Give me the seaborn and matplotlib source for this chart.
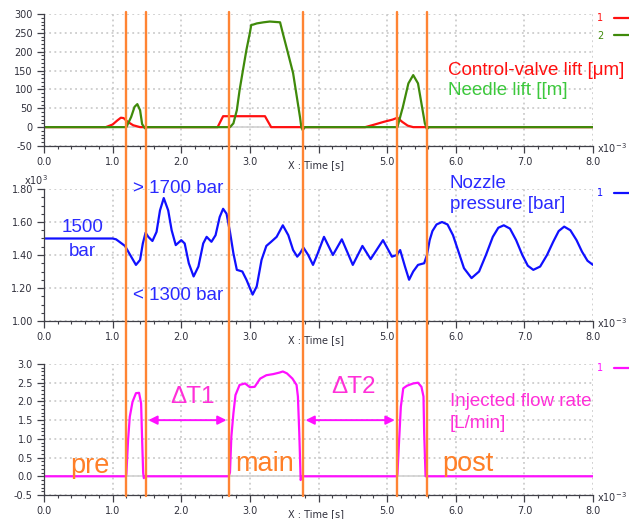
import matplotlib
matplotlib.use("Agg")
import matplotlib.pyplot as plt
import seaborn as sns
from matplotlib.lines import Line2D
from matplotlib.ticker import MultipleLocator, FuncFormatter
from matplotlib.transforms import blended_transform_factory

# ---- data (time in ms) -------------------------------------------------
event_times = [1.19, 1.48, 2.69, 3.78, 5.14, 5.58]

cv_time = [0.0, 0.90, 1.00, 1.07, 1.12, 1.16, 1.22, 1.30, 1.40,
           2.53, 2.61, 3.22, 3.31,
           4.68, 4.80, 4.95, 5.08, 5.15, 5.22, 5.30, 5.38, 8.0]
cv_lift = [0, 0, 7, 18, 25, 24, 14, 5, 0,
           0, 29, 29, 0,
           0, 6, 14, 20, 25, 14, 4, 0, 0]

needle_time = [0.0, 1.20, 1.27, 1.32, 1.36, 1.40, 1.43, 1.47, 1.50,
               2.71, 2.76, 2.81, 2.85, 2.90, 2.95, 3.00, 3.02, 3.05, 3.10,
               3.20, 3.29, 3.44, 3.48, 3.55, 3.63, 3.73, 3.75, 3.77, 3.80,
               5.15, 5.23, 5.31, 5.38, 5.45, 5.50, 5.55, 5.58, 5.61, 8.0]
needle_lift = [0, 0, 27, 54, 61, 45, 8, -3, 0,
               0, 10, 45, 98, 152, 205, 250, 271, 272, 275,
               278, 280, 278, 249, 200, 143, 27, 0, -8, 0,
               0, 54, 116, 138, 116, 63, 10, -5, 0, 0]

press_time = [0.0, 1.00, 1.05, 1.18, 1.27, 1.34, 1.40, 1.44, 1.48, 1.52,
              1.58, 1.64, 1.69, 1.745, 1.81, 1.86, 1.92, 2.00, 2.05, 2.11,
              2.18, 2.25, 2.32, 2.37, 2.44, 2.50, 2.56, 2.61, 2.66, 2.71,
              2.76, 2.81, 2.89, 2.95, 3.04, 3.10, 3.17, 3.24, 3.31, 3.39,
              3.48, 3.56, 3.63, 3.69, 3.73, 3.78, 3.85, 3.92, 3.98, 4.08,
              4.21, 4.34, 4.50, 4.64, 4.76, 4.94, 5.07, 5.14, 5.19, 5.26,
              5.32, 5.38, 5.45, 5.54, 5.58, 5.62, 5.66, 5.72, 5.80, 5.88,
              5.96, 6.04, 6.12, 6.23, 6.34, 6.44, 6.54, 6.62, 6.70, 6.79,
              6.88, 6.97, 7.05, 7.13, 7.23, 7.33, 7.42, 7.50, 7.58, 7.67,
              7.76, 7.84, 7.92, 8.0]
press_bar = [1500, 1500, 1495, 1455, 1390, 1340, 1370, 1470, 1535, 1510,
             1485, 1540, 1670, 1745, 1670, 1550, 1460, 1490, 1470, 1350,
             1270, 1330, 1470, 1510, 1480, 1520, 1630, 1680, 1650, 1540,
             1410, 1310, 1300, 1250, 1160, 1210, 1370, 1455, 1480, 1510,
             1580, 1520, 1430, 1390, 1410, 1445, 1400, 1340, 1400, 1510,
             1400, 1495, 1340, 1455, 1375, 1490, 1390, 1400, 1430, 1330,
             1250, 1300, 1340, 1350, 1400, 1490, 1545, 1585, 1600, 1585,
             1520, 1420, 1320, 1260, 1300, 1400, 1510, 1565, 1580, 1560,
             1490, 1400, 1335, 1310, 1330, 1400, 1480, 1545, 1572, 1550,
             1490, 1420, 1365, 1340]

flow_time = [0.0, 1.19, 1.20, 1.225, 1.25, 1.29, 1.34, 1.385, 1.415, 1.43,
             1.445, 1.455, 1.47,
             2.69, 2.71, 2.73, 2.76, 2.79, 2.85, 2.93, 3.00, 3.07, 3.15,
             3.24, 3.34, 3.43, 3.48, 3.54, 3.62, 3.68, 3.70, 3.72, 3.74,
             3.76,
             5.14, 5.15, 5.175, 5.20, 5.235, 5.29, 5.38, 5.45, 5.50, 5.53,
             5.54, 5.56, 8.0]
flow_rate = [0, 0, 0.05, 0.97, 1.59, 1.99, 2.22, 2.23, 1.95, 0.97,
             0.09, -0.05, 0,
             0, 0.1, 1.06, 1.68, 2.17, 2.44, 2.48, 2.38, 2.39, 2.61,
             2.70, 2.73, 2.77, 2.80, 2.75, 2.61, 2.44, 2.13, 1.15, -0.1,
             0,
             0, 0.05, 0.97, 1.86, 2.35, 2.42, 2.48, 2.50, 2.39, 2.13,
             1.15, 0, 0]

interval_arrows = [(1.52, 2.66), (3.81, 5.11)]
arrow_level = 1.5

time_ticks = [0, 1, 2, 3, 4, 5, 6, 7, 8]
label_slot = 4  # tick whose label gives way to the axis title
lift_ticks = [-50, 0, 50, 100, 150, 200, 250, 300]
press_ticks = [1000, 1200, 1400, 1600, 1800]
flow_ticks = [-0.5, 0.0, 0.5, 1.0, 1.5, 2.0, 2.5, 3.0]

# ---- colours -------------------------------------------------------------
RED = "#ff1010"
GREEN = "#3f8a0a"
GREEN_TXT = "#3cc83c"
BLUE = "#1010ff"
BLUE_TXT = "#2a2aff"
MAGENTA = "#ff10ff"
MAGENTA_TXT = "#ff30d8"
ORANGE = "#ff8433"
ORANGE_TXT = "#ff7f27"
AXIS = "#404048"
TICK_TXT = "#30303c"

sns.set_style("white")
plt.rcParams["font.family"] = ["DejaVu Sans"]

fig = plt.figure(figsize=(6.29, 5.19), dpi=100)
W, H = 629.0, 519.0


def panel(top_px, bottom_px):
    return fig.add_axes([44 / W, 1 - bottom_px / H, 549 / W,
                         (bottom_px - top_px) / H])


ax_lift = panel(14, 146)
ax_press = panel(189, 321)
ax_flow = panel(364, 495)


def time_fmt(v, _):
    return "" if abs(v - label_slot) < 1e-9 else f"{v:.1f}"


def style(ax, yticks, yminor, fmt):
    ax.set_facecolor("none")
    ax.set_xlim(time_ticks[0], time_ticks[-1])
    ax.set_ylim(yticks[0], yticks[-1])
    ax.set_xticks(time_ticks)
    ax.set_yticks(yticks)
    ax.xaxis.set_minor_locator(MultipleLocator(0.2))
    ax.yaxis.set_minor_locator(MultipleLocator(yminor))
    ax.xaxis.set_major_formatter(FuncFormatter(time_fmt))
    ax.yaxis.set_major_formatter(FuncFormatter(fmt))
    for s in ("top", "right"):
        ax.spines[s].set_visible(False)
    for s in ("left", "bottom"):
        ax.spines[s].set_color(AXIS)
        ax.spines[s].set_linewidth(0.9)
    ax.tick_params(which="major", direction="out", length=5, width=0.9,
                   color=AXIS, labelsize=7, labelcolor=TICK_TXT, pad=3,
                   left=True, bottom=True)
    ax.tick_params(which="minor", direction="out", length=2.5, width=0.8,
                   color=AXIS, left=True, bottom=True)
    ax.grid(True, which="major", linestyle=(0, (1.2, 2.2)),
            color="#c4c4c4", linewidth=1.1)
    ax.set_xlabel("X : Time [s]", fontsize=7, color=TICK_TXT)
    ax.xaxis.set_label_coords(0.495, -0.11)
    ax.set_ylabel("")
    ax.text(1.007, -0.015, "x10$^{-3}$", transform=ax.transAxes,
            fontsize=7, color=TICK_TXT, ha="left", va="center")


# ---- lift panel ----------------------------------------------------------
sns.lineplot(x=cv_time, y=cv_lift, ax=ax_lift, color=RED, lw=1.6,
             estimator=None, sort=False, label="1")
sns.lineplot(x=needle_time, y=needle_lift, ax=ax_lift, color=GREEN, lw=1.6,
             estimator=None, sort=False, label="2")
style(ax_lift, lift_ticks, 10, lambda v, _: f"{v:.0f}")
ax_lift.axhline(0, color="#d2d2d2", lw=1.2, zorder=1.5)
ax_lift.text(5.89, 139, "Control-valve lift [\u03bcm]", color=RED,
             fontsize=13.5, family="Liberation Sans", va="baseline")
ax_lift.text(5.89, 84, "Needle lift [[m]", color=GREEN_TXT,
             fontsize=13.5, family="Liberation Sans", va="baseline")

# ---- pressure panel ------------------------------------------------------
sns.lineplot(x=press_time, y=press_bar, ax=ax_press, color=BLUE, lw=1.6,
             estimator=None, sort=False, label="1")
style(ax_press, press_ticks, 50, lambda v, _: f"{v / 1000:.2f}")
ax_press.text(-0.036, 1.065, "x10$^{3}$", transform=ax_press.transAxes,
              fontsize=7, color=TICK_TXT, ha="left", va="center")
for x, y, s in [(1.295, 1776, "> 1700 bar"), (1.295, 1127, "< 1300 bar"),
                (0.258, 1539, "1500"), (0.36, 1394, "bar"),
                (5.915, 1806, "Nozzle"), (5.915, 1679, "pressure [bar]")]:
    ax_press.text(x, y, s, color=BLUE_TXT, fontsize=13.5,
                  family="Liberation Sans", va="baseline", clip_on=False)

# ---- flow panel ----------------------------------------------------------
sns.lineplot(x=flow_time, y=flow_rate, ax=ax_flow, color=MAGENTA, lw=1.6,
             estimator=None, sort=False, label="1")
style(ax_flow, flow_ticks, 0.1, lambda v, _: f"{v:.1f}")
ax_flow.axhline(0, color="#d2d2d2", lw=1.2, zorder=1.5)
for x0, x1 in interval_arrows:
    ax_flow.annotate("", xy=(x1, arrow_level), xytext=(x0, arrow_level),
                     arrowprops=dict(arrowstyle="<|-|>", color=MAGENTA,
                                     lw=1.4, mutation_scale=13,
                                     shrinkA=0, shrinkB=0))
ax_flow.text(1.833, 1.96, "\u0394T1", color=MAGENTA_TXT, fontsize=17.5,
             family="Liberation Sans", va="baseline")
ax_flow.text(4.18, 2.22, "\u0394T2", color=MAGENTA_TXT, fontsize=17.5,
             family="Liberation Sans", va="baseline")
ax_flow.text(5.915, 1.88, "Injected flow rate", color=MAGENTA_TXT,
             fontsize=13.5, family="Liberation Sans", va="baseline")
ax_flow.text(5.915, 1.29, "[L/min]", color=MAGENTA_TXT,
             fontsize=13.5, family="Liberation Sans", va="baseline")
for x, y, s in [(0.375, 0.09, "pre"), (2.78, 0.14, "main"),
                (5.80, 0.15, "post")]:
    ax_flow.text(x, y, s, color=ORANGE_TXT, fontsize=19.5,
                 family="Liberation Sans", va="baseline")

# ---- series keys beside each panel --------------------------------------
for ax in (ax_lift, ax_press, ax_flow):
    leg = ax.legend(loc="upper left", bbox_to_anchor=(1.007, 1.005),
                    frameon=False, markerfirst=False, fontsize=7,
                    labelcolor="linecolor", handlelength=1.9,
                    handletextpad=1.1, borderpad=0, borderaxespad=0,
                    labelspacing=0.75)

# ---- injection event markers spanning all panels ------------------------
blend = blended_transform_factory(ax_lift.transData, fig.transFigure)
for t in event_times:
    fig.add_artist(Line2D([t, t], [1 - 12 / H, 1 - 496 / H], color=ORANGE,
                          lw=1.7, transform=blend))

fig.savefig("out.png", dpi=100)
